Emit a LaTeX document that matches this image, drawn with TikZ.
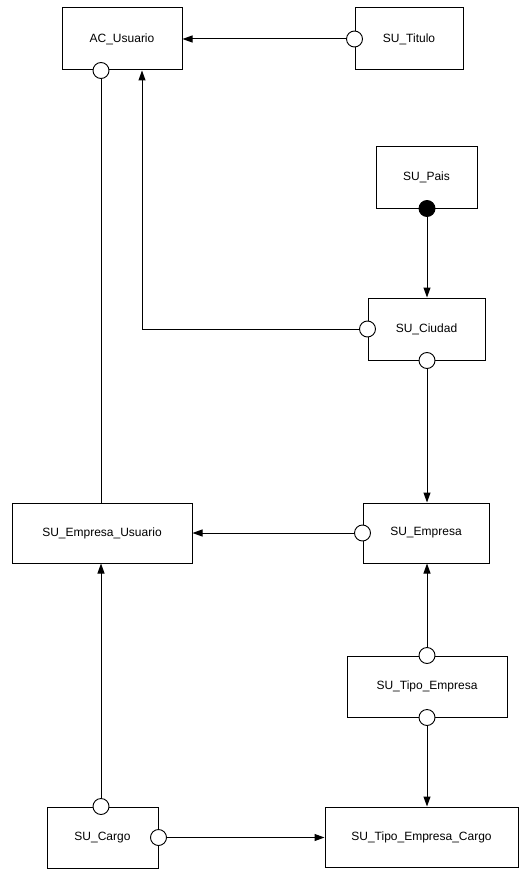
\documentclass[tikz,border=0pt]{standalone}
\usepackage{fontspec}
\setmainfont{Liberation Sans}
\usetikzlibrary{arrows.meta}
\begin{document}
\begin{tikzpicture}[x=1pt,y=-1pt,
  entity/.style={draw=black, line width=1pt, fill=white, rectangle, inner sep=0pt,
    font=\fontsize{12}{14}\selectfont},
  port/.style={draw=black, line width=0.9pt, fill=white, circle, inner sep=0pt, minimum size=16pt},
  solidport/.style={port, fill=black},
  link/.style={draw=black, line width=1pt},
  rel/.style={link, -{Triangle[length=10pt,width=7pt]}}
]
\useasboundingbox (0,0) rectangle (521,869);

% column guides
\coordinate (cL) at (101,0);
\coordinate (cM) at (142,0);
\coordinate (cR) at (427,0);

% entities
\node[entity, minimum width=120pt, minimum height=62pt] (acu)   at (122,39)    {AC\_Usuario};
\node[entity, minimum width=108pt, minimum height=62pt] (tit)   at (409,39)    {SU\_Titulo};
\node[entity, minimum width=101pt, minimum height=61pt] (pais)  at (426.5,177.5) {SU\_Pais};
\node[entity, minimum width=117pt, minimum height=62pt] (ciu)   at (426.5,329) {SU\_Ciudad};
\node[entity, minimum width=180pt, minimum height=60pt] (eu)    at (102,533)   {SU\_Empresa\_Usuario};
\node[entity, minimum width=126pt, minimum height=60pt] (emp)   at (426,533)   {SU\_Empresa};
\node[entity, minimum width=160pt, minimum height=61pt] (tipo)  at (427,686.5) {SU\_Tipo\_Empresa};
\node[entity, minimum width=111pt, minimum height=61pt] (cargo) at (102.5,837.5) {SU\_Cargo};
\node[entity, minimum width=193pt, minimum height=60pt] (tec)   at (421.5,837) {SU\_Tipo\_Empresa\_Cargo};

% relationship ends
\node[port]      (acuS)  at (acu.south -| cL) {};
\node[port]      (titW)  at (tit.west) {};
\node[solidport] (paisS) at (pais.south -| cR) {};
\node[port]      (ciuW)  at (ciu.west) {};
\node[port]      (ciuS)  at (ciu.south -| cR) {};
\node[port]      (empW)  at (emp.west) {};
\node[port]      (tipN)  at (tipo.north -| cR) {};
\node[port]      (tipS)  at (tipo.south -| cR) {};
\node[port]      (carN)  at (cargo.north -| cL) {};
\node[port]      (carE)  at (cargo.east) {};

% relationships
\draw[rel]  (titW)  -- (titW -| acu.east);
\draw[link] (acuS)  -- (eu.north -| acuS);
\draw[rel]  (ciuW)  -| (acu.south -| cM);
\draw[rel]  (paisS) -- (ciu.north -| paisS);
\draw[rel]  (ciuS)  -- (emp.north -| ciuS);
\draw[rel]  (empW)  -- (empW -| eu.east);
\draw[rel]  (tipN)  -- (emp.south -| tipN);
\draw[rel]  (tipS)  -- (tec.north -| tipS);
\draw[rel]  (carN)  -- (eu.south -| carN);
\draw[rel]  (carE)  -- (carE -| tec.west);
\end{tikzpicture}
\end{document}
